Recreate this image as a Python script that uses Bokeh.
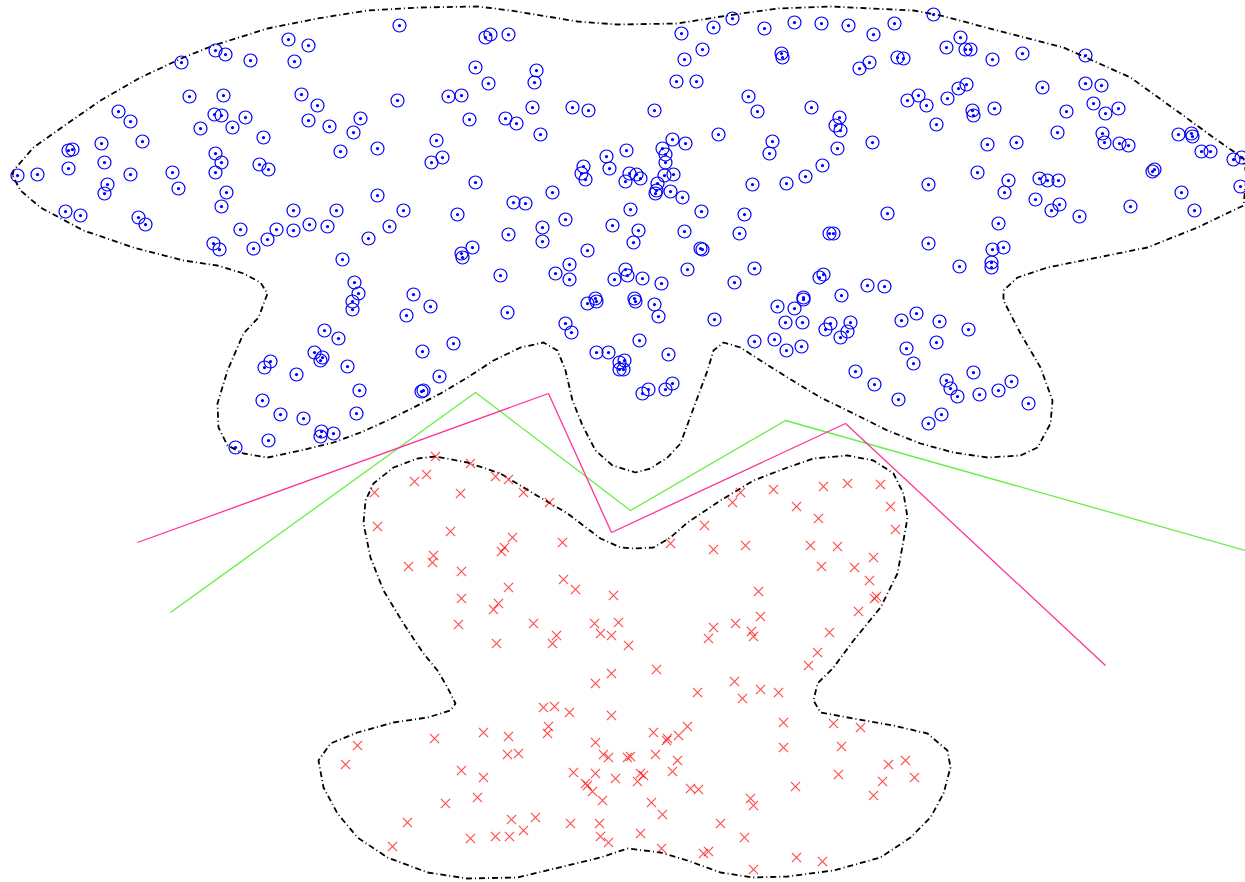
from bokeh.plotting import figure
from bokeh.models import Range1d
from bokeh.embed import file_html
from bokeh.resources import INLINE

blue_x = [399,288,308,294,215,225,181,250,189,223,301,317,397,118,130,214,221,245,200,232,308,329,360,353,263,142,101,68,72,104,340,377,215,221,215,259,268,17,37,68,130,172,178,107,104,226,221,377,65,80,138,145,293,336,403,240,276,267,293,309,327,389,368,213,219,253,342,354,358,413,
          485,490,508,681,713,732,764,794,821,702,781,782,475,536,534,488,684,676,696,448,461,748,757,811,532,572,588,654,469,505,516,540,718,436,442,431,772,769,626,606,609,583,581,585,672,685,662,665,665,664,673,629,636,640,625,657,656,655,670,682,822,805,786,752,475,552,513,525,630,701,744,457,565,542,542,508,612,638,633,684,739,829,472,461,462,587,700,702,500,555,569,569,614,625,627,642,661,687,734,754,819,823,595,634,803,
          933,848,894,873,960,946,965,970,992,1022,1085,897,903,869,859,966,958,1042,1085,1101,907,918,926,947,972,973,994,1066,1093,1105,1118,839,835,840,936,1057,1102,1104,1119,1128,1178,1191,1192,1201,1210,1233,1241,837,872,987,1016,977,1008,1004,1039,1047,1058,1035,1051,1059,1079,1152,1154,1240,1181,1130,1194,928,887,833,998,928,992,1003,991,991,959,867,884,841,
          352,352,430,406,507,587,596,565,571,596,608,619,619,324,338,314,322,320,270,264,296,347,359,356,262,280,303,321,320,333,268,235,422,453,439,421,423,
          635,654,658,714,639,668,624,623,642,648,665,672,754,774,786,801,777,794,803,785,802,825,830,850,847,840,901,916,939,968,906,936,913,855,874,898,946,950,957,973,979,998,1011,1028,941,928]
blue_y = [25,39,45,61,50,54,62,60,96,95,94,105,100,111,121,114,115,117,128,127,120,126,118,132,137,141,143,150,149,162,151,148,153,162,172,164,169,175,174,168,174,172,188,184,193,192,206,195,211,215,217,224,210,210,210,229,229,239,230,224,226,226,238,243,249,248,259,282,293,294,
          37,34,34,33,27,18,28,22,23,49,53,57,67,70,82,83,59,81,81,96,95,96,111,107,107,107,110,110,119,118,123,134,134,140,157,162,141,153,150,156,168,166,173,179,139,143,148,154,162,175,174,173,174,178,181,183,190,193,191,197,165,176,183,184,182,192,202,203,209,211,214,214,219,227,241,234,225,230,242,231,233,233,247,253,257,250,248,249,275,273,264,279,279,269,275,278,283,269,282,268,277,274,298,298,297,
          14,25,23,34,37,47,49,49,59,53,55,57,58,62,68,84,88,87,83,85,100,95,105,98,110,115,108,111,103,113,108,117,125,130,124,132,133,142,143,145,134,133,136,151,151,159,157,148,142,144,142,172,180,192,178,180,180,199,210,204,216,171,169,186,192,206,210,184,213,233,223,243,249,247,262,267,266,285,286,295,
          301,309,306,315,312,303,301,323,332,352,352,362,369,330,338,352,357,360,361,367,374,366,390,413,400,414,418,431,436,433,440,447,351,343,376,391,390,
          301,304,316,319,340,354,360,369,393,389,389,383,341,339,350,346,306,308,299,322,322,329,323,322,331,337,320,313,321,329,348,342,363,371,384,399,380,388,396,372,394,390,381,403,414,423]

red_x = [435,470,426,414,374,460,495,508,523,549,377,450,512,504,501,562,433,432,408,461,508,563,575,461,498,493,613,458,533,496,556,552,594,618,600,611,628,
         740,732,773,823,847,880,890,796,818,895,704,670,713,745,810,837,821,873,854,869,876,874,858,758,760,713,708,735,751,753,829,817,808,656,
         611,595,543,554,569,611,548,547,595,483,508,434,357,345,507,518,603,608,627,461,483,573,595,615,585,587,592,602,477,445,407,511,535,523,570,599,470,495,509,600,608,392,
         734,697,760,778,742,783,833,860,841,783,653,666,667,678,687,630,655,677,672,640,643,637,888,905,914,882,873,838,795,690,698,750,753,651,662,640,720,744,661,703,708,796,822,753]
red_y = [456,463,474,481,492,493,476,479,492,502,526,531,537,547,551,542,555,562,566,571,587,579,589,598,603,609,595,624,623,643,635,643,623,622,633,635,645,
         492,502,489,486,483,484,506,506,518,529,525,543,549,545,545,546,566,557,567,580,596,598,611,591,616,627,638,623,631,636,632,652,665,669,
         673,683,707,706,712,715,726,733,742,732,736,738,745,764,754,753,754,757,757,770,777,772,773,778,783,785,791,800,797,803,822,819,817,830,823,823,838,836,836,836,842,846,
         681,692,689,692,698,722,723,727,746,747,732,740,738,735,726,756,754,760,771,773,775,781,764,760,777,781,795,774,786,788,789,798,805,802,814,833,823,837,848,853,851,857,861,869]

blue_bx = [12,13,33,67,100,140,183,213,267,317,367,420,477,510,577,617,677,727,777,830,913,940,997,1063,1130,1180,1213,1243,1246,1243,1197,1147,1097,1047,1017,1003,1003,1020,1040,1052,1050,1037,1020,987,953,920,887,853,820,787,760,740,723,713,707,697,680,667,650,635,612,595,582,572,565,557,543,520,493,467,440,413,387,360,333,300,267,243,227,218,217,227,243,258,267,260,243,217,183,133,83,40,20,12]
blue_by = [175,170,147,123,100,77,57,45,28,18,10,7,6,10,21,24,23,15,8,6,10,15,30,47,77,113,137,158,175,205,227,247,257,267,277,290,300,333,367,400,423,447,455,457,452,443,430,413,397,377,360,347,342,350,370,397,443,457,468,472,465,450,425,400,370,350,342,347,360,377,393,407,420,432,442,450,457,453,445,427,403,370,333,317,293,282,273,265,260,247,230,207,190,175]

red_bx = [435,417,393,373,365,363,370,383,403,423,437,447,455,450,427,393,357,330,318,323,337,357,387,427,467,517,567,600,627,660,687,720,753,787,833,880,910,930,943,950,947,927,893,853,820,813,817,833,853,880,897,903,907,903,893,873,847,813,787,753,720,687,670,653,633,620,600,567,533,500,467,435]
red_by = [456,458,467,483,500,523,557,590,623,653,670,687,703,710,717,722,732,743,760,787,813,837,857,872,878,877,865,857,848,852,860,872,877,876,870,857,837,817,793,767,750,733,725,718,712,700,683,667,640,607,573,540,517,493,473,460,455,458,467,480,500,522,537,547,548,547,538,513,493,473,462,456]

green_x = [170,475,630,785,1245]
green_y = [612,392,510,420,550]
pink_x = [137,548,611,845,1105]
pink_y = [542,393,532,423,665]

p = figure(width=1245, height=882, output_backend="svg", toolbar_location=None,
           x_range=Range1d(0, 1245), y_range=Range1d(882, 0), min_border=0)
p.axis.visible = False
p.grid.visible = False
p.outline_line_color = None

p.line(blue_bx, blue_by, line_color="black", line_width=1.8, line_dash="6 3 1 3")
p.line(red_bx, red_by, line_color="black", line_width=1.8, line_dash="6 3 1 3")
p.line(green_x, green_y, line_color="#66ee44", line_width=1.3)
p.line(pink_x, pink_y, line_color="#ff3399", line_width=1.3)
p.scatter(blue_x, blue_y, marker="circle_dot", size=13, fill_color=None, line_color="blue", line_width=1.2)
p.scatter(red_x, red_y, marker="x", size=13, line_color="red", line_alpha=0.7, line_width=1.2)

open("out.html", "w").write(file_html(p, INLINE))
